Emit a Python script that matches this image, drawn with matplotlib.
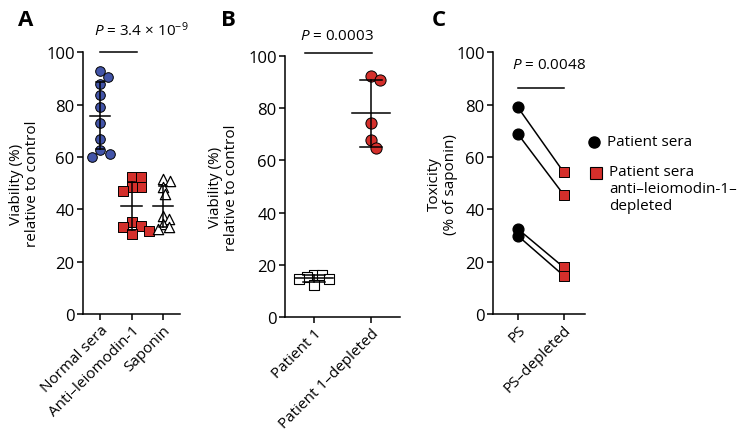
import numpy as np
import matplotlib
matplotlib.use("Agg")
import matplotlib.pyplot as plt
from matplotlib.lines import Line2D

plt.rcParams['font.family'] = ['Open Sans', 'DejaVu Sans']
plt.rcParams['mathtext.fontset'] = 'custom'
plt.rcParams['mathtext.rm'] = 'Open Sans'
plt.rcParams['mathtext.it'] = 'Open Sans:italic'

# ---------------- data ----------------
a_categories = ["Normal sera", "Anti\u2013leiomodin-1", "Saponin"]
a_normal = [93, 90.5, 88, 83.5, 79, 73, 67, 62.5, 61, 60]
a_antilmod = [52.5, 52.2, 48.4, 48.4, 46.9, 35.0, 33.8, 33.1, 31.8, 30.6]
a_saponin = [51.6, 50.9, 48.4, 45.9, 37.6, 36.3, 34.4, 33.1, 32.5]
a_pvalue = r"$\it{P}$ = 3.4 $\times$ 10$^{-9}$"

b_categories = ["Patient 1", "Patient 1\u2013depleted"]
b_patient = [16.2, 16.0, 15.5, 14.8, 14.6, 12.5]
b_depleted = [92.2, 90.7, 74.4, 67.9, 64.6]
b_pvalue = r"$\it{P}$ = 0.0003"

c_categories = ["PS", "PS\u2013depleted"]
c_ps = [79.0, 68.8, 32.5, 29.9]
c_depleted = [54.1, 45.5, 17.8, 14.6]
c_pvalue = r"$\it{P}$ = 0.0048"
c_legend = ["Patient sera", "Patient sera\nanti\u2013leiomodin-1\u2013\ndepleted"]

BLUE = "#4254a8"
RED = "#d42f2b"

fig = plt.figure(figsize=(7.5, 4.39), dpi=100)
W, H = 750, 439


def add_ax(x0, x1, ytop, ybot):
    return fig.add_axes([x0 / W, 1 - ybot / H, (x1 - x0) / W, (ybot - ytop) / H])


def style(ax, xlim, cats):
    ax.set_ylim(0, 100)
    ax.set_xlim(*xlim)
    ax.set_yticks([0, 20, 40, 60, 80, 100])
    ax.set_xticks(range(len(cats)))
    ax.set_xticklabels(cats, rotation=45, ha='right', rotation_mode='anchor', fontsize=11)
    for s in ['top', 'right']:
        ax.spines[s].set_visible(False)
    for s in ['left', 'bottom']:
        ax.spines[s].set_linewidth(1.1)
    ax.tick_params(axis='both', width=1.1, length=4, pad=2)
    ax.tick_params(axis='y', labelsize=12)


def swarm(ax, center, values, diam_px):
    tr = ax.transData
    px_per_x = tr.transform((1, 0))[0] - tr.transform((0, 0))[0]
    placed = []
    order = np.argsort(values)[::-1]
    res = np.zeros(len(values))
    for i in order:
        v = values[i]
        yp = tr.transform((center, v))[1]
        best = None
        for k in range(0, 400):
            for sgn in ([1] if k == 0 else [1, -1]):
                off = sgn * k * 0.5
                if all((off - px) ** 2 + (yp - py) ** 2 >= diam_px ** 2 for px, py in placed):
                    best = off
                    break
            if best is not None:
                break
        placed.append((best, yp))
        res[i] = center + best / px_per_x
    return res


def mean_sd(ax, center, values, mw=0.33, cw=0.15):
    m = np.mean(values)
    sd = np.std(values, ddof=1)
    kw = dict(color='black', lw=1.1, zorder=4)
    ax.plot([center, center], [m - sd, m + sd], **kw)
    ax.plot([center - cw, center + cw], [m + sd, m + sd], **kw)
    ax.plot([center - cw, center + cw], [m - sd, m - sd], **kw)
    ax.plot([center - mw, center + mw], [m, m], **kw)


# ---------------- Panel A ----------------
axA = add_ax(83, 180, 53.3, 315)
style(axA, (-0.54, 2.54), a_categories)
xa = swarm(axA, 0, a_normal, 10)
axA.scatter(xa, a_normal, s=48, marker='o', facecolor=BLUE, edgecolor='black', lw=0.7, zorder=3, clip_on=False)
xb = swarm(axA, 1, a_antilmod, 9.5)
axA.scatter(xb, a_antilmod, s=48, marker='s', facecolor=RED, edgecolor='black', lw=0.7, zorder=3, clip_on=False)
xc = swarm(axA, 2, a_saponin, 7)
axA.scatter(xc, a_saponin, s=55, marker='^', facecolor='white', edgecolor='black', lw=0.9, zorder=3, clip_on=False)
mean_sd(axA, 0, a_normal, cw=0.12)
mean_sd(axA, 1, a_antilmod, cw=0.12)
mean_sd(axA, 2, a_saponin, cw=0.12)
axA.plot([0, 1.17], [100, 100], color='black', lw=1.1, clip_on=False)
axA.text(1.3, 105, a_pvalue, ha='center', va='bottom', fontsize=11)
axA.set_ylabel("Viability (%)\nrelative to control", fontsize=11, linespacing=1.1)
axA.yaxis.set_label_coords(-0.44, 0.5)
fig.text(26 / W, 1 - 20 / H, "A", fontsize=16, fontweight='bold', ha='center', va='center')

# ---------------- Panel B ----------------
axB = add_ax(285, 400, 56.7, 318.3)
style(axB, (-0.51, 1.51), b_categories)
xp = swarm(axB, 0, b_patient, 7.5)
axB.scatter(xp, b_patient, s=48, marker='s', facecolor='white', edgecolor='black', lw=0.8, zorder=3)
xd = swarm(axB, 1, b_depleted, 10)
axB.scatter(xd, b_depleted, s=65, marker='o', facecolor=RED, edgecolor='black', lw=0.7, zorder=3, clip_on=False)
mean_sd(axB, 0, b_patient, mw=0.33, cw=0.19)
mean_sd(axB, 1, b_depleted, mw=0.33, cw=0.19)
axB.plot([-0.16, 1.02], [100.9, 100.9], color='black', lw=1.1, clip_on=False)
axB.text(0.4, 105, b_pvalue, ha='center', va='bottom', fontsize=11)
axB.set_ylabel("Viability (%)\nrelative to control", fontsize=11, linespacing=1.1)
axB.yaxis.set_label_coords(-0.40, 0.5)
fig.text(228 / W, 1 - 20 / H, "B", fontsize=16, fontweight='bold', ha='center', va='center')

# ---------------- Panel C ----------------
axC = add_ax(493, 585, 53.3, 315)
style(axC, (-0.54, 1.46), c_categories)
for y0, y1 in zip(c_ps, c_depleted):
    axC.plot([0, 1], [y0, y1], color='black', lw=1.1, zorder=2)
axC.scatter([0] * len(c_ps), c_ps, s=60, marker='o', facecolor='black', edgecolor='black', zorder=3)
axC.scatter([1] * len(c_depleted), c_depleted, s=60, marker='s', facecolor=RED, edgecolor='black', lw=0.7, zorder=3)
axC.plot([0, 1], [86.3, 86.3], color='black', lw=1.1, clip_on=False)
axC.text(-0.12, 92.5, c_pvalue, ha='left', va='bottom', fontsize=11)
axC.set_ylabel("Toxicity\n(% of saponin)", fontsize=11, linespacing=1.1)
axC.yaxis.set_label_coords(-0.38, 0.5)
fig.text(439 / W, 1 - 20 / H, "C", fontsize=16, fontweight='bold', ha='center', va='center')

# legend keys (figure coordinates)
fig.add_artist(Line2D([594 / W], [1 - 143 / H], marker='o', ls='', color='black', markersize=8,
                      transform=fig.transFigure))
fig.text(607 / W, 1 - 143 / H, c_legend[0], ha='left', va='center', fontsize=11)
fig.add_artist(Line2D([596 / W], [1 - 174 / H], marker='s', ls='', markerfacecolor=RED,
                      markeredgecolor='black', markeredgewidth=0.8, markersize=8,
                      transform=fig.transFigure))
fig.text(609 / W, 1 - 165 / H, c_legend[1], ha='left', va='top', fontsize=11, linespacing=1.2)

fig.savefig("out.png", dpi=100)
